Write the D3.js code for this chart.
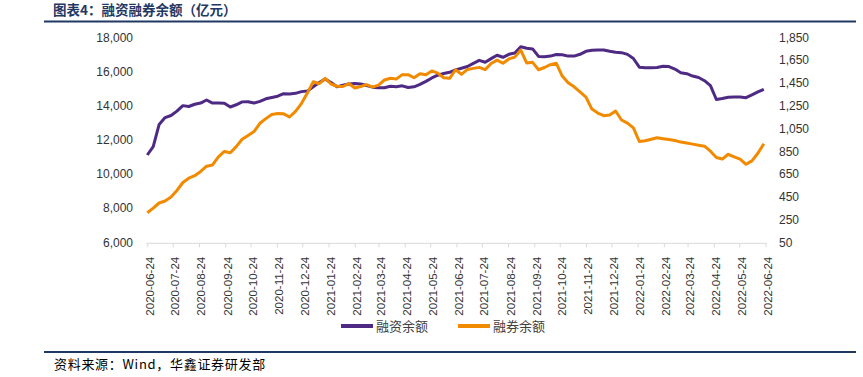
<!DOCTYPE html>
<html>
<head>
<meta charset="utf-8">
<script src="https://cdn.jsdelivr.net/npm/d3@7"></script>
<style>
  body { margin: 0; background: #fff; }
  svg { display: block; }
</style>
</head>
<body>
<svg id="chart" width="863" height="377"></svg>
<script>
// weekly observations starting 2020-06-24
const startDate = "2020-06-24";

// 融资余额 (left axis, 亿元)
const marginBalance = [
  11110, 11600, 12900, 13300, 13420, 13680, 14000, 13950, 14080, 14150,
  14330, 14150, 14150, 14140, 13920, 14050, 14220, 14230, 14150, 14250,
  14400, 14480, 14550, 14700, 14680, 14720, 14820, 14850, 15100, 15350,
  15550, 15350, 15100, 15200, 15270, 15300, 15265, 15180, 15080, 15050,
  15050, 15130, 15110, 15160, 15060, 15100, 15240, 15420, 15620, 15780,
  15880, 15950, 16090, 16190, 16290, 16475, 16650, 16540, 16750, 16950,
  16830, 17005, 17080, 17450, 17355, 17320, 16880, 16865, 16900, 16990,
  16980, 16900, 16900, 17005, 17180, 17240, 17255, 17255, 17180, 17130,
  17100, 17000, 16760, 16250, 16220, 16220, 16230, 16300, 16290, 16140,
  15920, 15870, 15730, 15650, 15460, 15170, 14360, 14420, 14490, 14505,
  14500, 14465, 14630, 14800, 14950
];

// 融券余额 (right axis, 亿元)
const shortBalance = [
  310, 350, 395, 413, 447, 505, 575, 613, 635, 672,
  718, 729, 800, 848, 836, 890, 955, 988, 1022, 1095,
  1136, 1172, 1180, 1178, 1150, 1200, 1268, 1360, 1460, 1442,
  1490, 1440, 1420, 1418, 1444, 1405, 1418, 1434, 1412, 1430,
  1475, 1490, 1483, 1522, 1522, 1495, 1530, 1521, 1555, 1535,
  1495, 1490, 1565, 1525, 1568, 1577, 1586, 1566, 1620, 1650,
  1622, 1660, 1676, 1738, 1625, 1630, 1565, 1585, 1610, 1622,
  1510, 1450, 1415, 1370, 1325, 1220, 1185, 1162, 1168, 1203,
  1124, 1096, 1054, 935, 942, 955, 968, 960, 952, 944,
  930, 921, 912, 902, 894, 850, 795, 781, 823, 800,
  781, 735, 765, 832, 915
];

const xLabels = [
  "2020-06-24", "2020-07-24", "2020-08-24", "2020-09-24", "2020-10-24",
  "2020-11-24", "2020-12-24", "2021-01-24", "2021-02-24", "2021-03-24",
  "2021-04-24", "2021-05-24", "2021-06-24", "2021-07-24", "2021-08-24",
  "2021-09-24", "2021-10-24", "2021-11-24", "2021-12-24", "2022-01-24",
  "2022-02-24", "2022-03-24", "2022-04-24", "2022-05-24", "2022-06-24"
];
const leftTicks = [6000, 8000, 10000, 12000, 14000, 16000, 18000];
const rightTicks = [50, 250, 450, 650, 850, 1050, 1250, 1450, 1650, 1850];

const seriesNames = ["融资余额", "融券余额"];
const colors = ["#4E2A84", "#F28A00"];

const svg = d3.select("#chart");
const parse = d3.timeParse("%Y-%m-%d");
const start = parse(startDate);
const dates = marginBalance.map((d, i) => d3.timeDay.offset(start, 7 * i));

const plotTop = 37.3, plotBottom = 242.3;
const x = d3.scaleTime()
  .domain([start, dates[dates.length - 1]])
  .range([147.3, 763.8]);
const yLeft = d3.scaleLinear().domain([6000, 18000]).range([plotBottom, plotTop]);
const yRight = d3.scaleLinear().domain([50, 1850]).range([plotBottom, plotTop]);

// title + rules
svg.append("text")
  .attr("x", 53).attr("y", 15)
  .attr("font-family", "'Noto Sans CJK SC', sans-serif")
  .attr("font-size", 13.5).attr("font-weight", "bold")
  .attr("fill", "#1F3864")
  .text("图表4：融资融券余额（亿元）");
svg.append("rect").attr("x", 44).attr("y", 20.5).attr("width", 812).attr("height", 2).attr("fill", "#1F3864");
svg.append("rect").attr("x", 44).attr("y", 351).attr("width", 812).attr("height", 2).attr("fill", "#1F3864");
svg.append("text")
  .attr("x", 54).attr("y", 369)
  .attr("font-family", "'Noto Sans CJK SC', sans-serif")
  .attr("font-size", 13)
  .attr("letter-spacing", 0.7)
  .attr("fill", "#000")
  .text("资料来源：Wind，华鑫证券研发部");

// axes
const axisFont = "'Liberation Sans', Arial, sans-serif";

const leftAxis = svg.append("g")
  .attr("transform", "translate(133,0)")
  .call(d3.axisLeft(yLeft).tickValues(leftTicks).tickFormat(d3.format(",")).tickSize(0).tickPadding(0));
leftAxis.select(".domain").remove();

const rightAxis = svg.append("g")
  .attr("transform", "translate(779,0)")
  .call(d3.axisRight(yRight).tickValues(rightTicks).tickFormat(d3.format(",")).tickSize(0).tickPadding(0));
rightAxis.select(".domain").remove();

svg.selectAll(".tick text")
  .attr("font-family", axisFont)
  .attr("font-size", 12)
  .attr("fill", "#333");

const xAxis = svg.append("g")
  .attr("transform", `translate(0,${plotBottom + 1})`)
  .call(d3.axisBottom(x)
    .tickValues(xLabels.map(parse))
    .tickFormat(d3.timeFormat("%Y-%m-%d"))
    .tickSize(4)
    .tickSizeOuter(0));
xAxis.select(".domain").attr("stroke", "#D9D9D9").attr("d", `M${x(start) - 1},0H${x(parse(xLabels[xLabels.length - 1])) + 1}`);
xAxis.selectAll(".tick line").attr("stroke", "#D9D9D9");
xAxis.selectAll(".tick text")
  .attr("font-family", axisFont)
  .attr("font-size", 11.5)
  .attr("fill", "#333")
  .attr("transform", "rotate(-90)")
  .attr("text-anchor", "end")
  .attr("x", -13.5)
  .attr("y", 2)
  .attr("dy", "0.35em");

// lines
const marginLine = d3.line()
  .x((d, i) => x(dates[i]))
  .y(d => yLeft(d));
const shortLine = d3.line()
  .x((d, i) => x(dates[i]))
  .y(d => yRight(d));

svg.append("path")
  .datum(marginBalance)
  .attr("fill", "none")
  .attr("stroke", colors[0])
  .attr("stroke-width", 3)
  .attr("stroke-linejoin", "round")
  .attr("d", marginLine);

svg.append("path")
  .datum(shortBalance)
  .attr("fill", "none")
  .attr("stroke", colors[1])
  .attr("stroke-width", 3)
  .attr("stroke-linejoin", "round")
  .attr("d", shortLine);

// legend
const legendPos = [341, 458];
const legend = svg.selectAll(".legend")
  .data(seriesNames)
  .enter().append("g")
  .attr("class", "legend")
  .attr("transform", (d, i) => `translate(${legendPos[i]},326)`);
legend.append("line")
  .attr("x1", 0).attr("x2", 32)
  .attr("stroke", (d, i) => colors[i])
  .attr("stroke-width", 4);
legend.append("text")
  .attr("x", 35).attr("y", 0)
  .attr("dy", "0.35em")
  .attr("font-family", "'Noto Sans CJK SC', sans-serif")
  .attr("font-size", 13)
  .attr("fill", "#404040")
  .text(d => d);
</script>
</body>
</html>
